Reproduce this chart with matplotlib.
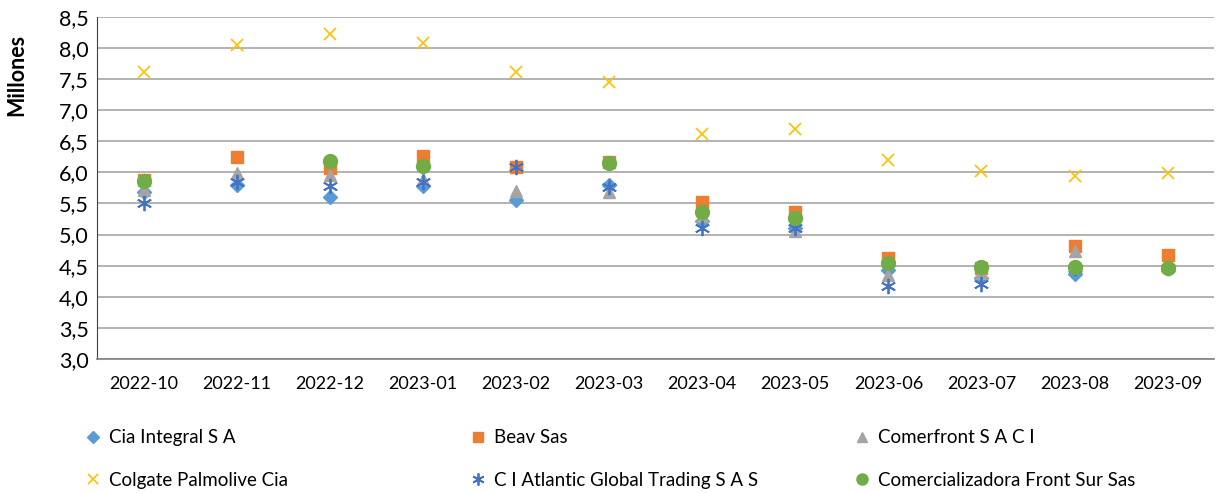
import numpy as np
import matplotlib.pyplot as plt
from matplotlib.ticker import FuncFormatter

plt.rcParams['font.family'] = ['Lato', 'DejaVu Sans']

meses = ["2022-10", "2022-11", "2022-12", "2023-01", "2023-02", "2023-03",
         "2023-04", "2023-05", "2023-06", "2023-07", "2023-08", "2023-09"]

cia_integral = [5.68, 5.80, 5.60, 5.78, 5.55, 5.80, 5.22, 5.10, 4.43, 4.30, 4.36, 4.47]
beav = [5.88, 6.25, 6.07, 6.27, 6.09, 6.17, 5.53, 5.36, 4.63, 4.46, 4.82, 4.67]
comerfront = [5.72, 5.99, 5.96, 5.90, 5.70, 5.68, 5.30, 5.05, 4.35, 4.38, 4.73, 4.50]
colgate = [7.62, 8.05, 8.23, 8.08, 7.62, 7.46, 6.62, 6.70, 6.20, 6.02, 5.94, 5.99]
atlantic = [5.50, 5.85, 5.78, 5.85, 6.09, 5.77, 5.10, 5.10, 4.18, 4.20, 4.46, 4.47]
front_sur = [5.86, np.nan, 6.18, 6.10, np.nan, 6.15, 5.36, 5.27, 4.54, 4.48, 4.48, 4.47]

x = np.arange(len(meses))

fig = plt.figure(figsize=(12.17, 4.93), dpi=100)
ax = fig.add_axes([0.0797, 0.272, 0.918, 0.6935])

h1, = ax.plot(x, cia_integral, "D", color="#5B9BD5", ms=7.5, ls="none", label="Cia Integral S A")
h2, = ax.plot(x, beav, "s", color="#ED7D31", ms=9, ls="none", label="Beav Sas")
h3, = ax.plot(x, comerfront, "^", color="#A5A5A5", ms=9, ls="none", label="Comerfront S A C I")
h4, = ax.plot(x, colgate, "x", color="#FFC000", ms=9, mew=1.2, ls="none", label="Colgate Palmolive Cia")
h5, = ax.plot(x, atlantic, marker=(6, 2, 0), color="#4472C4", ms=11, mew=1.3, ls="none",
              label="C I Atlantic Global Trading S A S")
h6, = ax.plot(x, front_sur, "o", color="#70AD47", ms=10, ls="none", label="Comercializadora Front Sur Sas")

ax.set_xlim(-0.5, len(meses) - 0.5)
ax.set_ylim(3.0, 8.5)
ax.set_yticks(np.arange(3.0, 8.51, 0.5))
ax.yaxis.set_major_formatter(FuncFormatter(lambda v, p: f"{v:.1f}".replace(".", ",")))
ax.set_xticks(x)
ax.set_xticklabels(meses, fontsize=13)
ax.tick_params(axis="y", labelsize=15.5, length=0, pad=6)
ax.tick_params(axis="x", length=0, pad=12)

ax.grid(axis="y", color="#A6A6A6", lw=1.2)
ax.set_axisbelow(True)
for s in ["top", "right"]:
    ax.spines[s].set_visible(False)
ax.spines["left"].set_color("#404040")
ax.spines["bottom"].set_color("#808080")
ax.spines["bottom"].set_linewidth(1.2)

ax.set_ylabel("Millones", fontsize=15.5, fontweight="bold")
ax.yaxis.set_label_coords(-0.0625, 0.83)

# leyenda en tres columnas fijas, como en Excel
columnas = [(h1, h4), (h2, h5), (h3, h6)]
pos_x = [84, 469, 853]
for (ha, hb), px in zip(columnas, pos_x):
    fig.legend(handles=[ha, hb], labels=[ha.get_label(), hb.get_label()],
               loc="center left", bbox_to_anchor=(px / 1217, 1 - 459 / 493),
               frameon=False, fontsize=13.5, labelspacing=1.38, borderpad=0,
               borderaxespad=0, handletextpad=0.35, handlelength=1.0, markerscale=0.8)

fig.savefig("out.png", dpi=100)
